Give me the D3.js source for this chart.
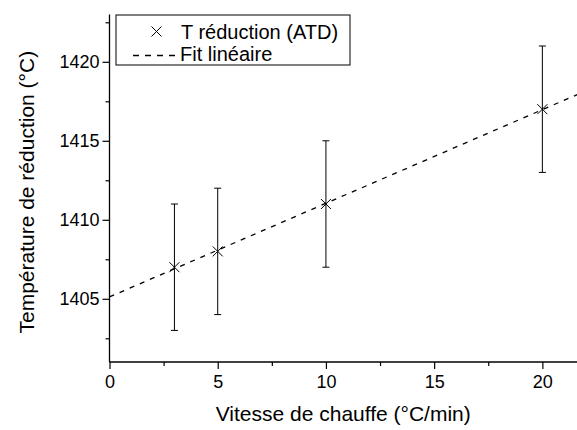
<!DOCTYPE html>
<html><head><meta charset="utf-8">
<script src="https://cdn.jsdelivr.net/npm/d3@7"></script>
<style>body{margin:0;background:#fff}svg{display:block;font-family:"Liberation Sans",Arial,sans-serif}</style>
</head><body><svg id="c" width="577" height="430"></svg>
<script>
const vitesse = [3, 5, 10, 20];
const temperature = [1407, 1408, 1411, 1417];
const erreur = [4, 4, 4, 4];
const fitIntercept = 1405.12;
const fitSlope = 0.5925;
const xTicks = [0, 5, 10, 15, 20];
const yTicks = [1405, 1410, 1415, 1420];
const xMinor = [2.5, 7.5, 12.5, 17.5];
const yMinor = [1402.5, 1407.5, 1412.5, 1417.5, 1422.5];
const legendLabels = ["T réduction (ATD)", "Fit linéaire"];

const svg = d3.select("#c");
const x = d3.scaleLinear().domain([0, 21.6]).range([109.5, 577]);
const y = d3.scaleLinear().domain([1401, 1423]).range([362, 14.4]);

// fit line
const fitData = [0, 21.6].map(v => [v, fitIntercept + fitSlope * v]);
svg.append("path").datum(fitData)
  .attr("d", d3.line().x(d => x(d[0])).y(d => y(d[1])))
  .attr("fill", "none").attr("stroke", "#000").attr("stroke-width", 1.3)
  .attr("stroke-dasharray", "5,6");

// error bars + markers
const g = svg.append("g");
vitesse.forEach((v, i) => {
  const cx = x(v), t = y(temperature[i] + erreur[i]), b = y(temperature[i] - erreur[i]);
  g.append("line").attr("x1", cx).attr("x2", cx).attr("y1", t).attr("y2", b).attr("stroke", "#000").attr("stroke-width", 1);
  [t, b].forEach(yy => g.append("line").attr("x1", cx - 3.5).attr("x2", cx + 3.5).attr("y1", yy).attr("y2", yy).attr("stroke", "#000").attr("stroke-width", 1));
  const cy = y(temperature[i]), s = 5;
  g.append("path").attr("d", `M${cx - s},${cy - s}L${cx + s},${cy + s}M${cx - s},${cy + s}L${cx + s},${cy - s}`)
    .attr("stroke", "#000").attr("stroke-width", 1).attr("fill", "none");
});

// axes
const xAxis = svg.append("g").attr("transform", "translate(0,362)")
  .call(d3.axisBottom(x).tickValues(xTicks).tickSize(7).tickPadding(6).tickFormat(d3.format("d")));
svg.append("g").attr("transform", "translate(0,362)")
  .call(d3.axisBottom(x).tickValues(xMinor).tickSize(4).tickFormat(""));
const yAxis = svg.append("g").attr("transform", "translate(109.5,0)")
  .call(d3.axisLeft(y).tickValues(yTicks).tickSize(7).tickPadding(3).tickFormat(d3.format("d")));
svg.append("g").attr("transform", "translate(109.5,0)")
  .call(d3.axisLeft(y).tickValues(yMinor).tickSize(4).tickFormat(""));
[xAxis, yAxis].forEach(a => {
  a.selectAll("text").attr("font-size", 18).attr("fill", "#000").attr("font-family", "Liberation Sans, Arial, sans-serif");
});
svg.selectAll(".tick line").attr("stroke-width", 1.2);
svg.selectAll(".domain").remove();
svg.append("line").attr("x1", 109.5).attr("x2", 577).attr("y1", 362).attr("y2", 362).attr("stroke", "#000").attr("stroke-width", 1.3);
svg.append("line").attr("x1", 109.5).attr("x2", 109.5).attr("y1", 14.4).attr("y2", 362).attr("stroke", "#000").attr("stroke-width", 1.3);

// axis titles
svg.append("text").attr("x", x(10.8)).attr("y", 421).attr("text-anchor", "middle")
  .attr("font-size", 21).text("Vitesse de chauffe (°C/min)");
svg.append("text").attr("transform", "translate(34," + ((14.4 + 362) / 2 + 4) + ") rotate(-90)")
  .attr("text-anchor", "middle").attr("font-size", 21).text("Température de réduction (°C)");

// legend
const lg = svg.append("g");
lg.append("rect").attr("x", 116).attr("y", 15).attr("width", 234).attr("height", 50)
  .attr("fill", "#fff").attr("stroke", "#000").attr("stroke-width", 1);
const mx = 156.5, my = 31.5, ms = 5;
lg.append("path").attr("d", `M${mx - ms},${my - ms}L${mx + ms},${my + ms}M${mx - ms},${my + ms}L${mx + ms},${my - ms}`)
  .attr("stroke", "#000").attr("stroke-width", 1);
lg.append("line").attr("x1", 133).attr("x2", 176).attr("y1", 55.5).attr("y2", 55.5)
  .attr("stroke", "#000").attr("stroke-width", 1.3).attr("stroke-dasharray", "6,6");
lg.append("text").attr("x", 181).attr("y", 38.5).attr("font-size", 20).text(legendLabels[0]);
lg.append("text").attr("x", 180).attr("y", 61).attr("font-size", 20).text(legendLabels[1]);
</script></body></html>
